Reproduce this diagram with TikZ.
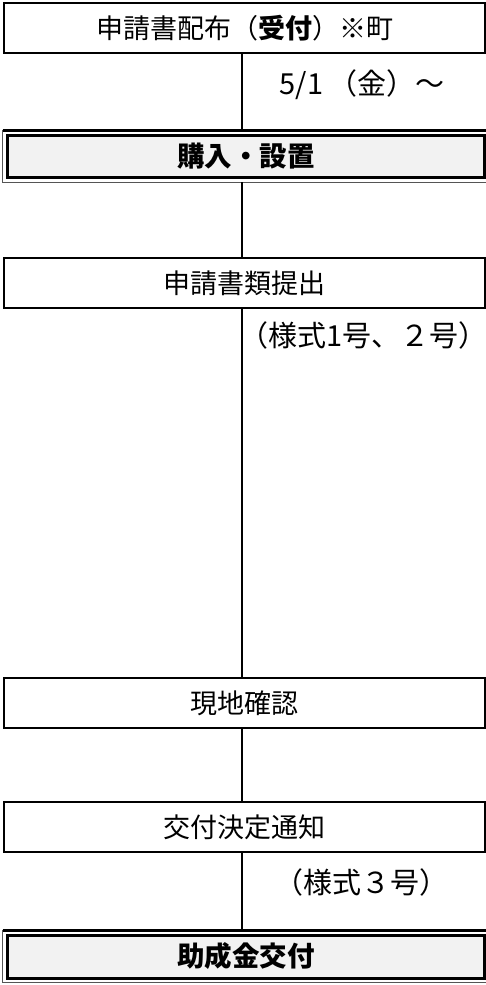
\documentclass[tikz,border=0pt]{standalone}
\usepackage{fontspec}
\setmainfont{Noto Sans CJK JP}
\definecolor{boxgray}{HTML}{F2F2F2}
\definecolor{framegray}{HTML}{555555}
\begin{document}
\begin{tikzpicture}[x=1pt,y=-1pt,
  stepbox/.style={draw=black,line width=2pt,fill=white,minimum width=481pt,minimum height=50pt,inner sep=0pt,font=\fontsize{27}{30}\selectfont},
  mainbox/.style={draw=black,line width=3pt,fill=boxgray,minimum width=476.5pt,inner sep=0pt,font=\fontsize{27.5}{30}\selectfont\bfseries},
  outerthin/.style={draw=framegray,line width=1pt},
  outerthick/.style={draw=black,line width=3pt},
  conn/.style={draw=black,line width=2pt},
  note/.style={inner sep=0pt,font=\fontsize{29}{32}\selectfont}]
\useasboundingbox (0,0) rectangle (486,985);
\fill[white] (0,0) rectangle (486,985);
% outer frames of the double boxes (drawn first)
\coordinate (o2tl) at (2.5,130);
\coordinate (o2tr) at (486,130);
\coordinate (o2bl) at (2.5,182);
\coordinate (o2br) at (486,182);
\coordinate (o6tl) at (2.5,930);
\coordinate (o6tr) at (486,930);
\coordinate (o6bl) at (2.5,982.5);
\coordinate (o6br) at (486,982.5);
\draw[outerthin] (o2tl) -- (o2bl) -- (o2br);
\draw[outerthick] (o2tl) -- (o2tr);
\draw[outerthin] (o6tl) -- (o6bl) -- (o6br);
\draw[outerthick] (o6tl) -- (o6tr);
% boxes
\node[stepbox] (b1) at (244.5,28) {申請書配布（\textbf{受付}）※町};
\node[mainbox,minimum height=42pt] (b2) at (245.75,156) {購入・設置};
\node[stepbox] (b3) at (244.5,283) {申請書類提出};
\node[stepbox] (b4) at (244.5,703) {現地確認};
\node[stepbox] (b5) at (244.5,827) {交付決定通知};
\node[mainbox,minimum height=43pt] (b6) at (245.75,956.5) {助成金交付};
% connector coordinates on x=242
\coordinate (c1) at (242,53);
\coordinate (c2) at (242,129);
\coordinate (c3) at (242,182);
\coordinate (c4) at (242,258);
\coordinate (c5) at (242,308);
\coordinate (c6) at (242,678);
\coordinate (c7) at (242,728);
\coordinate (c8) at (242,802);
\coordinate (c9) at (242,852);
\coordinate (c10) at (242,929);
\draw[conn] (c1) -- (c2);
\draw[conn] (c3) -- (c4);
\draw[conn] (c5) -- (c6);
\draw[conn] (c7) -- (c8);
\draw[conn] (c9) -- (c10);
% notes
\node[note] (n1) at (362,85) {5/1\,（金）～};
\node[note] (n2) at (363.5,335) {（様式1号、２号）};
\node[note] (n3) at (361.5,882) {（様式３号）};
\end{tikzpicture}
\end{document}
